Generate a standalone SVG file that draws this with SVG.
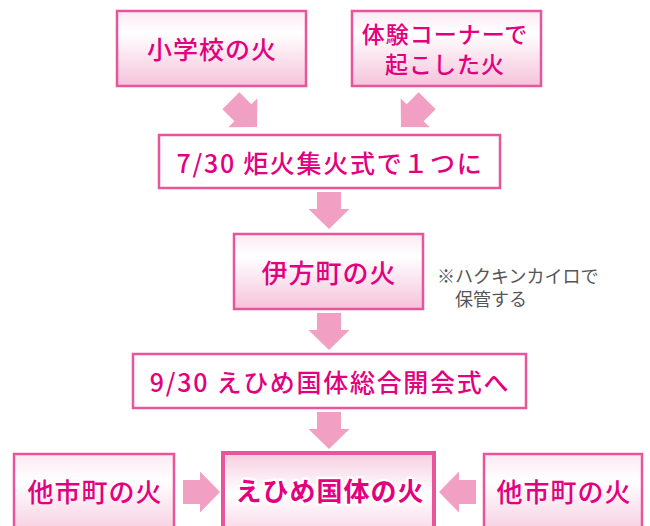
<svg xmlns="http://www.w3.org/2000/svg" width="650" height="526" viewBox="0 0 650 526">
<defs>
<linearGradient id="g" x1="0" y1="0" x2="0" y2="1">
<stop offset="0" stop-color="#FCEAF2"/>
<stop offset="0.3" stop-color="#FFFFFF"/>
<stop offset="1" stop-color="#F5C3DA"/>
</linearGradient>
<linearGradient id="gc" x1="0" y1="0" x2="0" y2="1">
<stop offset="0" stop-color="#F7CDE0"/>
<stop offset="0.45" stop-color="#FFFFFF"/>
<stop offset="1" stop-color="#F7CDE0"/>
</linearGradient>
<polygon id="arr" points="-12,-37 12,-37 12,-20 20.5,-20 0,0 -20.5,-20 -12,-20"/>
</defs>
<style>
.box{fill:url(#g);stroke:#E9559B;stroke-width:2.5}
.wbox{fill:#FFFFFF;stroke:#E9559B;stroke-width:2.5}
.cbox{fill:url(#gc);stroke:#E9559B;stroke-width:4}
.t{font-family:"Noto Sans CJK JP","Noto Sans",sans-serif;font-weight:500;fill:#E3007F;text-anchor:middle;dominant-baseline:central;letter-spacing:1px}
.w{letter-spacing:1.7px}
.note{font-family:"Noto Sans CJK JP","Noto Sans",sans-serif;fill:#555555;font-size:18px}
.ctext{font-weight:bold;stroke:#FFFFFF;stroke-width:5;paint-order:stroke;stroke-linejoin:round}
#arrows use{fill:#F19FC3}
</style>
<g id="arrows">
<use href="#arr" transform="translate(257,127) rotate(-45)"/>
<use href="#arr" transform="translate(401,127) rotate(45)"/>
<use href="#arr" transform="translate(329,229)"/>
<use href="#arr" transform="translate(329,350)"/>
<use href="#arr" transform="translate(329,449)"/>
<use href="#arr" transform="translate(220,492) rotate(-90)"/>
<use href="#arr" transform="translate(439,492) rotate(90)"/>
</g>
<g id="n1">
<rect class="box" x="117" y="11" width="189" height="75"/>
<text class="t" x="212" y="48" font-size="25">小学校の火</text>
</g>
<g id="n2">
<rect class="box" x="352" y="11" width="189" height="75"/>
<text class="t" x="445" y="33" font-size="23">体験コーナーで</text>
<text class="t" x="445" y="63" font-size="23">起こした火</text>
</g>
<g id="n3">
<rect class="wbox" x="159" y="135" width="341" height="53"/>
<text class="t w" x="330" y="161.5" font-size="25">7/30 炬火集火式で１つに</text>
</g>
<g id="n4">
<rect class="box" x="234" y="234" width="189" height="75"/>
<text class="t" x="329" y="271" font-size="26">伊方町の火</text>
</g>
<g id="note">
<text class="note" x="437" y="283">※ハクキンカイロで</text>
<text class="note" x="455" y="306">保管する</text>
</g>
<g id="n5">
<rect class="wbox" x="133" y="354" width="393" height="54"/>
<text class="t w" x="330" y="381" font-size="25">9/30 えひめ国体総合開会式へ</text>
</g>
<g id="n6">
<rect class="box" x="14" y="454" width="160" height="90"/>
<text class="t" x="95" y="490.5" font-size="26">他市町の火</text>
</g>
<g id="n7">
<rect class="cbox" x="223" y="453" width="211" height="90"/>
<text class="t ctext" x="330" y="489" font-size="26">えひめ国体の火</text>
</g>
<g id="n8">
<rect class="box" x="484" y="454" width="158" height="90"/>
<text class="t" x="564" y="490.5" font-size="26">他市町の火</text>
</g>
</svg>
